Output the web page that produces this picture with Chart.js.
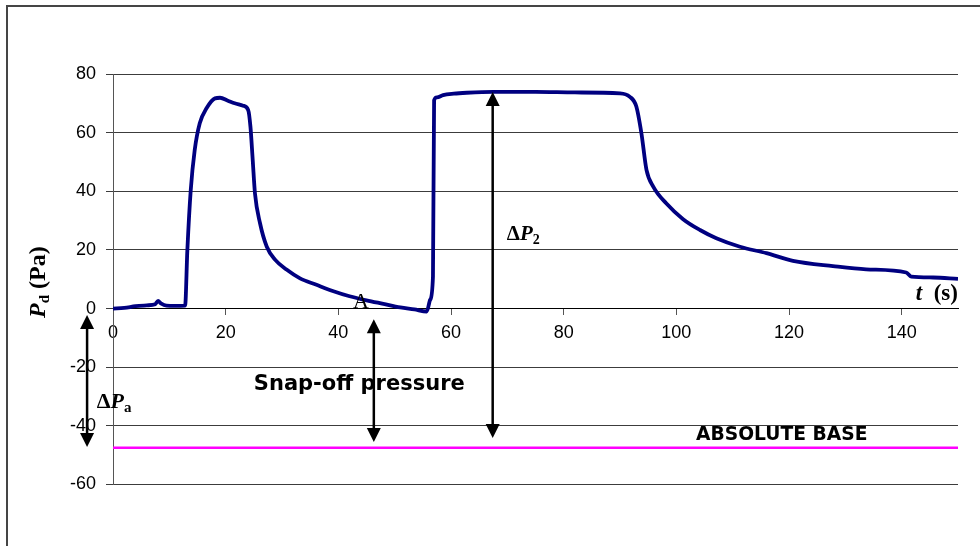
<!DOCTYPE html>
<html>
<head>
<meta charset="utf-8">
<script src="https://cdn.jsdelivr.net/npm/chart.js@4"></script>
<style>
  body { margin: 0; background: #fff; overflow: hidden; }
  #wrap { position: relative; width: 980px; height: 546px; }
  #frame { position: absolute; left: 6px; top: 5px; width: 990px; height: 560px;
           border-left: 2px solid #454545; border-top: 2px solid #454545; }
</style>
</head>
<body>
<div id="wrap">
  <div id="frame"></div>
  <canvas id="myChart"></canvas>
</div>
<script>
// measured differential pressure, time in s, pressure in Pa
let times = [0, 2, 4, 6, 7.5, 8, 8.5, 9.5, 11, 12.8, 13.2, 13.8, 14.5, 15.4, 16.6, 18.1, 19,
  20.4, 21.6, 23.1, 24, 24.4, 24.8, 25.2, 26.1, 27.3, 28.8, 30.8, 33.2, 36, 39, 42, 45, 48,
  51, 53.5, 55.7, 56.3, 56.8, 57.0, 57.5, 58.6, 60.5, 62.8, 67.5, 75, 82, 90, 91.7, 92.9,
  93.8, 94.7, 95.9, 98.2, 101.2, 104.2, 107.1, 111.3, 116, 120.7, 127.8, 133.7, 140.8,
  141.7, 145.6, 150];
let pressure = [0, 0.2, 0.8, 1.1, 1.5, 2.6, 1.8, 1.0, 0.9, 1.0, 20, 40.4, 54, 63.2, 68.3, 71.7, 71.9,
  70.9, 70, 69.2, 67.7, 62, 50.7, 39.3, 29.1, 21.1, 16.6, 13.3, 10.3, 8.2, 6.0, 4.2, 2.8, 1.6,
  0.4, -0.3, -1.0, 3, 11, 71, 72.0, 72.8, 73.3, 73.6, 73.9, 73.9, 73.7, 73.4, 72.3, 68.9,
  59.8, 47.3, 41.6, 35.9, 30.5, 26.8, 24, 21.1, 18.9, 16.3, 14.5, 13.4, 12.3,
  10.9, 10.6, 10.1];

// absolute base level
let baseTimes = [0, 150];
let baseLevel = [-47.5, -47.5];

let yTicks = [-60, -40, -20, 0, 20, 40, 60, 80];
let xTicks = [0, 20, 40, 60, 80, 100, 120, 140];

function toPoints(xs, ys){
    return xs.map((t, i) => ({x: t, y: ys[i]}));
}

// write a row of text pieces, each with its own font and baseline shift
function drawRuns(ctx, x, y, runs){
    for (let r of runs){
        ctx.font = r.font;
        ctx.fillText(r.text, x, y + (r.dy || 0));
        x += ctx.measureText(r.text).width;
    }
}

function arrow(ctx, x, yTop, yBottom, up, down){
    let hw = 7, hh = 14;
    ctx.beginPath();
    ctx.moveTo(x, up ? yTop + hh - 2 : yTop);
    ctx.lineTo(x, down ? yBottom - hh + 2 : yBottom);
    ctx.stroke();
    if (up){
        ctx.beginPath();
        ctx.moveTo(x, yTop);
        ctx.lineTo(x - hw, yTop + hh);
        ctx.lineTo(x + hw, yTop + hh);
        ctx.closePath();
        ctx.fill();
    }
    if (down){
        ctx.beginPath();
        ctx.moveTo(x, yBottom);
        ctx.lineTo(x - hw, yBottom - hh);
        ctx.lineTo(x + hw, yBottom - hh);
        ctx.closePath();
        ctx.fill();
    }
}

const serif = '"Liberation Serif", "Times New Roman", serif';
const sans = '"DejaVu Sans", Verdana, sans-serif';

const notes = {
    id: 'notes',
    afterDatasetsDraw(chart){
        let ctx = chart.ctx;
        let xs = chart.scales.x, ys = chart.scales.y;
        let px = v => xs.getPixelForValue(v);
        let py = v => ys.getPixelForValue(v);
        ctx.save();
        ctx.fillStyle = '#000';
        ctx.strokeStyle = '#000';
        ctx.lineWidth = 2.5;
        ctx.textBaseline = 'alphabetic';

        arrow(ctx, px(-4.6), py(-2.2), py(-47.2), true, true);
        arrow(ctx, px(46.3), py(-3.6), py(-45.5), true, true);
        arrow(ctx, px(67.4), py(73.9), py(-44.1), true, true);

        drawRuns(ctx, px(-2.9), py(-33.8), [
            {text: 'Δ', font: 'bold 22px ' + serif},
            {text: 'P', font: 'italic bold 22px ' + serif},
            {text: 'a', font: 'bold 15px ' + serif, dy: 4}
        ]);
        drawRuns(ctx, px(69.9), py(23.4), [
            {text: 'Δ', font: 'bold 21px ' + serif},
            {text: 'P', font: 'italic bold 21px ' + serif},
            {text: '2', font: 'bold 14px ' + serif, dy: 4}
        ]);
        drawRuns(ctx, px(42.6), py(0.1), [
            {text: 'A', font: '22px ' + serif}
        ]);
        drawRuns(ctx, px(142.5), py(2.9), [
            {text: 't', font: 'italic bold 23px ' + serif},
            {text: '  (s)', font: 'bold 23px ' + serif}
        ]);

        ctx.font = 'bold 21px ' + sans;
        ctx.fillText('Snap-off pressure', px(25), py(-27.7));
        ctx.font = 'bold 18.7px ' + sans;
        ctx.fillText('ABSOLUTE BASE', px(103.5), py(-44.8));

        // y axis title, read bottom to top
        ctx.translate(45, 318);
        ctx.rotate(-Math.PI / 2);
        drawRuns(ctx, 0, 0, [
            {text: 'P', font: 'italic bold 24px ' + serif},
            {text: 'd', font: 'bold 15px ' + serif, dy: 4},
            {text: ' (Pa)', font: 'bold 24px ' + serif}
        ]);
        ctx.restore();
    }
};

new Chart('myChart', {
    type: 'line',
    data: {
        datasets: [{
            data: toPoints(times, pressure),
            borderColor: '#000080',
            borderWidth: 3.8,
            pointRadius: 0,
            cubicInterpolationMode: 'monotone',
            fill: false
        }, {
            data: toPoints(baseTimes, baseLevel),
            borderColor: '#ff00ff',
            borderWidth: 2.5,
            pointRadius: 0,
            fill: false
        }]
    },
    options: {
        responsive: true,
        maintainAspectRatio: false,
        animation: false,
        layout: {padding: {left: 0, right: 22, top: 74, bottom: 61.5}},
        plugins: {legend: {display: false}, tooltip: {enabled: false}},
        scales: {
            x: {
                type: 'linear',
                position: {y: 0},
                min: 0,
                max: 150,
                afterBuildTicks: s => { s.ticks = xTicks.map(v => ({value: v})); },
                grid: {drawOnChartArea: false, drawTicks: true, tickLength: 6, color: '#555'},
                border: {display: true, color: '#000', width: 1},
                ticks: {color: '#000', padding: 8, maxRotation: 0,
                    font: {family: '"Liberation Sans", Arial, sans-serif', size: 18}}
            },
            y: {
                min: -60,
                max: 80,
                afterBuildTicks: s => { s.ticks = yTicks.map(v => ({value: v})); },
                afterFit: s => { s.width = 113; },
                grid: {color: '#3c3c3c', lineWidth: 1, tickLength: 7},
                border: {display: true, color: '#555', width: 1},
                ticks: {color: '#000', padding: 10,
                    font: {family: '"Liberation Sans", Arial, sans-serif', size: 18}}
            }
        }
    },
    plugins: [notes]
});
</script>
</body>
</html>
